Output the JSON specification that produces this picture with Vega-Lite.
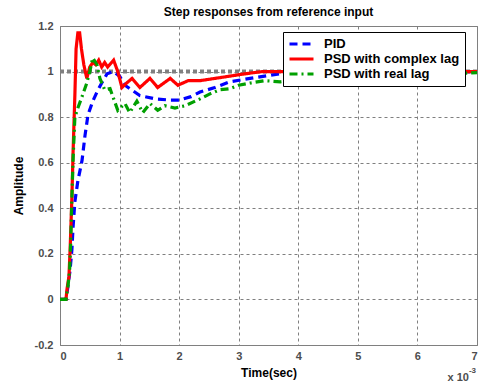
{
  "$schema": "https://vega.github.io/schema/vega-lite/v6.json",
  "width": 417,
  "height": 319,
  "autosize": {"type": "none"},
  "padding": {"left": 60, "top": 26, "right": 3, "bottom": 44},
  "background": "white",
  "title": {"text": "Step responses from reference input", "fontSize": 12, "font": "Liberation Sans", "fontWeight": "bold", "color": "black", "offset": 1, "anchor": "middle"},
  "config": {
    "view": {"stroke": "#808080", "strokeWidth": 1},
    "axis": {
      "labelFont": "Liberation Sans", "labelFontWeight": "bold", "labelFontSize": 11, "labelColor": "#4d4d4d",
      "titleFont": "Liberation Sans", "titleFontWeight": "bold", "titleFontSize": 12, "titleColor": "black",
      "grid": true, "gridDash": [3, 3], "gridColor": "#7f7f7f", "gridOpacity": 1, "gridWidth": 1,
      "ticks": false, "domain": false
    },
    "legend": {
      "orient": "none", "legendX": 223, "legendY": 6, "title": null,
      "strokeColor": "black", "fillColor": "white", "padding": 5,
      "symbolType": "stroke", "symbolSize": 576, "symbolStrokeWidth": 3,
      "labelFont": "Liberation Sans", "labelFontSize": 13, "labelFontWeight": "bold", "labelColor": "black",
      "labelOffset": 9, "rowPadding": 1, "cornerRadius": 0, "clipHeight": 14
    }
  },
  "datasets": {
    "ref": [{"t": 0, "v": 1}, {"t": 7, "v": 1}],
    "resp": [
      {"series": "PID", "t": 0, "v": 0},
      {"series": "PID", "t": 0.1, "v": 0},
      {"series": "PID", "t": 0.13, "v": 0.05},
      {"series": "PID", "t": 0.17, "v": 0.13},
      {"series": "PID", "t": 0.2, "v": 0.22},
      {"series": "PID", "t": 0.22, "v": 0.32},
      {"series": "PID", "t": 0.25, "v": 0.43},
      {"series": "PID", "t": 0.3, "v": 0.52},
      {"series": "PID", "t": 0.37, "v": 0.61},
      {"series": "PID", "t": 0.42, "v": 0.72},
      {"series": "PID", "t": 0.47, "v": 0.81},
      {"series": "PID", "t": 0.55, "v": 0.87},
      {"series": "PID", "t": 0.62, "v": 0.91},
      {"series": "PID", "t": 0.7, "v": 0.95},
      {"series": "PID", "t": 0.79, "v": 0.99},
      {"series": "PID", "t": 0.9, "v": 1.0},
      {"series": "PID", "t": 1.0, "v": 0.98},
      {"series": "PID", "t": 1.09, "v": 0.94},
      {"series": "PID", "t": 1.2, "v": 0.92},
      {"series": "PID", "t": 1.34, "v": 0.895},
      {"series": "PID", "t": 1.6, "v": 0.88},
      {"series": "PID", "t": 1.85, "v": 0.875},
      {"series": "PID", "t": 2.0, "v": 0.875},
      {"series": "PID", "t": 2.2, "v": 0.89},
      {"series": "PID", "t": 2.35, "v": 0.91},
      {"series": "PID", "t": 2.6, "v": 0.93},
      {"series": "PID", "t": 2.85, "v": 0.955},
      {"series": "PID", "t": 3.19, "v": 0.97},
      {"series": "PID", "t": 3.69, "v": 0.99},
      {"series": "PID", "t": 4.0, "v": 1.0},
      {"series": "PID", "t": 5.0, "v": 1.0},
      {"series": "PID", "t": 6.0, "v": 1.0},
      {"series": "PID", "t": 7.0, "v": 1.0},
      {"series": "PSD with complex lag", "t": 0, "v": 0},
      {"series": "PSD with complex lag", "t": 0.1, "v": 0},
      {"series": "PSD with complex lag", "t": 0.12, "v": 0.05},
      {"series": "PSD with complex lag", "t": 0.15, "v": 0.1},
      {"series": "PSD with complex lag", "t": 0.17, "v": 0.22},
      {"series": "PSD with complex lag", "t": 0.2, "v": 0.45},
      {"series": "PSD with complex lag", "t": 0.22, "v": 0.65},
      {"series": "PSD with complex lag", "t": 0.25, "v": 0.9},
      {"series": "PSD with complex lag", "t": 0.27, "v": 1.1},
      {"series": "PSD with complex lag", "t": 0.3, "v": 1.17},
      {"series": "PSD with complex lag", "t": 0.33, "v": 1.17},
      {"series": "PSD with complex lag", "t": 0.36, "v": 1.1},
      {"series": "PSD with complex lag", "t": 0.4, "v": 1.03},
      {"series": "PSD with complex lag", "t": 0.45, "v": 0.97},
      {"series": "PSD with complex lag", "t": 0.5, "v": 1.02},
      {"series": "PSD with complex lag", "t": 0.55, "v": 1.04},
      {"series": "PSD with complex lag", "t": 0.6, "v": 1.03},
      {"series": "PSD with complex lag", "t": 0.65, "v": 1.05},
      {"series": "PSD with complex lag", "t": 0.7, "v": 1.02},
      {"series": "PSD with complex lag", "t": 0.75, "v": 1.04},
      {"series": "PSD with complex lag", "t": 0.8, "v": 1.02},
      {"series": "PSD with complex lag", "t": 0.9, "v": 1.05},
      {"series": "PSD with complex lag", "t": 0.97, "v": 1.0},
      {"series": "PSD with complex lag", "t": 1.04, "v": 0.93},
      {"series": "PSD with complex lag", "t": 1.12, "v": 0.95},
      {"series": "PSD with complex lag", "t": 1.21, "v": 0.97},
      {"series": "PSD with complex lag", "t": 1.34, "v": 0.93},
      {"series": "PSD with complex lag", "t": 1.51, "v": 0.97},
      {"series": "PSD with complex lag", "t": 1.64, "v": 0.93},
      {"series": "PSD with complex lag", "t": 1.85, "v": 0.97},
      {"series": "PSD with complex lag", "t": 1.98, "v": 0.94},
      {"series": "PSD with complex lag", "t": 2.15, "v": 0.96},
      {"series": "PSD with complex lag", "t": 2.35, "v": 0.96},
      {"series": "PSD with complex lag", "t": 2.6, "v": 0.97},
      {"series": "PSD with complex lag", "t": 2.85, "v": 0.98},
      {"series": "PSD with complex lag", "t": 3.1, "v": 0.99},
      {"series": "PSD with complex lag", "t": 3.4, "v": 1.0},
      {"series": "PSD with complex lag", "t": 4.0, "v": 1.0},
      {"series": "PSD with complex lag", "t": 5.0, "v": 1.0},
      {"series": "PSD with complex lag", "t": 6.0, "v": 1.0},
      {"series": "PSD with complex lag", "t": 7.0, "v": 1.0},
      {"series": "PSD with real lag", "t": 0, "v": 0},
      {"series": "PSD with real lag", "t": 0.1, "v": 0},
      {"series": "PSD with real lag", "t": 0.13, "v": 0.05},
      {"series": "PSD with real lag", "t": 0.16, "v": 0.12},
      {"series": "PSD with real lag", "t": 0.18, "v": 0.25},
      {"series": "PSD with real lag", "t": 0.2, "v": 0.45},
      {"series": "PSD with real lag", "t": 0.22, "v": 0.62},
      {"series": "PSD with real lag", "t": 0.25, "v": 0.8},
      {"series": "PSD with real lag", "t": 0.3, "v": 0.84},
      {"series": "PSD with real lag", "t": 0.37, "v": 0.89},
      {"series": "PSD with real lag", "t": 0.45, "v": 0.95},
      {"series": "PSD with real lag", "t": 0.5, "v": 1.0},
      {"series": "PSD with real lag", "t": 0.55, "v": 1.06},
      {"series": "PSD with real lag", "t": 0.62, "v": 1.03},
      {"series": "PSD with real lag", "t": 0.67, "v": 0.97},
      {"series": "PSD with real lag", "t": 0.75, "v": 0.92},
      {"series": "PSD with real lag", "t": 0.84, "v": 0.925},
      {"series": "PSD with real lag", "t": 0.97, "v": 0.83},
      {"series": "PSD with real lag", "t": 1.09, "v": 0.86},
      {"series": "PSD with real lag", "t": 1.17, "v": 0.82},
      {"series": "PSD with real lag", "t": 1.29, "v": 0.87},
      {"series": "PSD with real lag", "t": 1.39, "v": 0.82},
      {"series": "PSD with real lag", "t": 1.51, "v": 0.86},
      {"series": "PSD with real lag", "t": 1.64, "v": 0.83},
      {"series": "PSD with real lag", "t": 1.76, "v": 0.85},
      {"series": "PSD with real lag", "t": 1.93, "v": 0.84},
      {"series": "PSD with real lag", "t": 2.1, "v": 0.85},
      {"series": "PSD with real lag", "t": 2.35, "v": 0.88},
      {"series": "PSD with real lag", "t": 2.5, "v": 0.9},
      {"series": "PSD with real lag", "t": 2.68, "v": 0.92},
      {"series": "PSD with real lag", "t": 2.85, "v": 0.925},
      {"series": "PSD with real lag", "t": 3.0, "v": 0.94},
      {"series": "PSD with real lag", "t": 3.2, "v": 0.95},
      {"series": "PSD with real lag", "t": 3.44, "v": 0.96},
      {"series": "PSD with real lag", "t": 3.7, "v": 0.955},
      {"series": "PSD with real lag", "t": 4.0, "v": 0.965},
      {"series": "PSD with real lag", "t": 4.5, "v": 0.97},
      {"series": "PSD with real lag", "t": 5.0, "v": 0.975},
      {"series": "PSD with real lag", "t": 5.5, "v": 0.98},
      {"series": "PSD with real lag", "t": 6.0, "v": 0.985},
      {"series": "PSD with real lag", "t": 6.5, "v": 0.99},
      {"series": "PSD with real lag", "t": 7.0, "v": 0.995}
    ]
  },
  "layer": [
    {
      "data": {"name": "ref"},
      "mark": {"type": "line", "color": "#808080", "strokeWidth": 4, "strokeDash": [4, 3]},
      "encoding": {
        "x": {"field": "t", "type": "quantitative", "scale": {"domain": [0, 7], "nice": false},
          "axis": {"values": [0, 1, 2, 3, 4, 5, 6, 7], "format": "d", "labelPadding": 5, "title": "Time(sec)", "titlePadding": 6}},
        "y": {"field": "v", "type": "quantitative", "scale": {"domain": [-0.2, 1.2], "nice": false},
          "axis": {"values": [-0.2, 0, 0.2, 0.4, 0.6, 0.8, 1, 1.2], "labelExpr": "replace(format(datum.value, '~g'), '\u2212', '-')", "labelPadding": 7, "title": "Amplitude", "titlePadding": 9}}
      }
    },
    {
      "data": {"name": "resp"},
      "mark": {"type": "line", "strokeWidth": 3.2},
      "encoding": {
        "x": {"field": "t", "type": "quantitative"},
        "y": {"field": "v", "type": "quantitative"},
        "color": {"field": "series", "type": "nominal",
          "scale": {"domain": ["PID", "PSD with complex lag", "PSD with real lag"], "range": ["#0000ff", "#ff0000", "#00a000"]}},
        "strokeDash": {"field": "series", "type": "nominal",
          "scale": {"domain": ["PID", "PSD with complex lag", "PSD with real lag"], "range": [[8, 5], [1, 0], [8, 4, 2, 4]]}}
      }
    },
    {
      "data": {"values": [{"label": "x 10"}]},
      "mark": {"type": "text", "align": "right", "baseline": "middle", "dx": -8, "dy": 33, "font": "Liberation Sans", "fontSize": 11, "fontWeight": "bold", "color": "#4d4d4d"},
      "encoding": {"x": {"datum": 7}, "y": {"datum": -0.2}, "text": {"field": "label"}}
    },
    {
      "data": {"values": [{"label": "-3"}]},
      "mark": {"type": "text", "align": "right", "baseline": "middle", "dx": -1, "dy": 26, "font": "Liberation Sans", "fontSize": 8, "fontWeight": "bold", "color": "#4d4d4d"},
      "encoding": {"x": {"datum": 7}, "y": {"datum": -0.2}, "text": {"field": "label"}}
    }
  ]
}
